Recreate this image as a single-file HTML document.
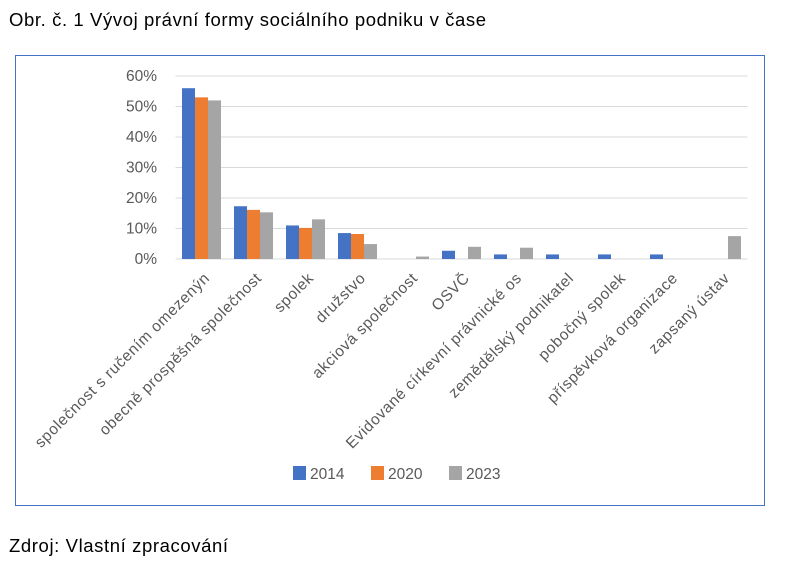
<!DOCTYPE html>
<html><head><meta charset="utf-8"><style>
body{margin:0;background:#fff;width:787px;height:563px;overflow:hidden;font-family:"Liberation Sans","DejaVu Sans",sans-serif}
.t{position:absolute;font-size:18.5px;letter-spacing:0.6px;color:#000}
</style></head><body>
<div class="t" style="left:9px;top:9px">Obr. č. 1 Vývoj právní formy sociálního podniku v čase</div>
<div class="t" style="left:9px;top:535px">Zdroj: Vlastní zpracování</div>
<svg id="c" width="787" height="563" style="position:absolute;left:0;top:0" xmlns="http://www.w3.org/2000/svg">
<rect x="15.5" y="55.5" width="749" height="450" fill="none" stroke="#4472c4" stroke-width="1"/>
</svg>
<script>
const categories=["společnost s ručením omezenýn","obecně prospěšná společnost","spolek","družstvo","akciová společnost","OSVČ","Evidované církevní právnické os","zemědělský podnikatel","pobočný spolek","příspěvková organizace","zapsaný ústav"];
const s2014=[56,17.3,11,8.5,0,2.7,1.5,1.5,1.5,1.5,0];
const s2020=[53,16.1,10.2,8.2,0,0,0,0,0,0,0];
const s2023=[52,15.3,13,4.9,0.8,4,3.7,0,0,0,7.5];
const yTicks=[0,10,20,30,40,50,60];
const seriesNames=["2014","2020","2023"];
const colors=["#4472c4","#ed7d31","#a5a5a5"];
const svg=document.getElementById('c');const NS="http://www.w3.org/2000/svg";
const x0=175.5,x1=747.5,y0=259,yTop=76;
const pitch=(x1-x0)/categories.length,bw=13;
const y=v=>y0-(v/60)*(y0-yTop);
const xc=i=>x0+pitch*(i+0.5);
function mk(t,a){const e=document.createElementNS(NS,t);for(const k in a)e.setAttribute(k,a[k]);svg.appendChild(e);return e;}
yTicks.forEach(v=>{
 const g=mk('line',{x1:x0,x2:x1,y1:y(v),y2:y(v),stroke:'#d9d9d9','stroke-width':1});
 
 
 const t=mk('text',{x:157,y:y(v)+5,'text-anchor':'end','font-size':15.5,fill:'#595959','font-family':'Liberation Sans, sans-serif'});
 t.textContent=v+'%';
 
 
});
[s2014,s2020,s2023].forEach((s,k)=>{
 s.forEach((v,i)=>{
  if(v<=0)return;
  const r=mk('rect',{x:xc(i)+(k-1)*bw-bw/2,y:y(v),width:bw,height:y0-y(v),fill:colors[k]});
  
  
 });
});
categories.forEach((c,i)=>{
 const tx=xc(i)+9,ty=279;
 const t=mk('text',{x:tx,y:ty,'text-anchor':'end','font-size':15.5,'letter-spacing':0.6,fill:'#595959','font-family':'Liberation Sans, sans-serif',transform:`rotate(-45 ${tx} ${ty})`});
 t.textContent=c;
 
 
});
seriesNames.forEach((n,k)=>{
 const lx=293+k*78;
 const r=mk('rect',{x:lx,y:466,width:13,height:14,fill:colors[k]});
 
 
 const t=mk('text',{x:lx+17,y:479,'font-size':15.5,fill:'#595959','font-family':'Liberation Sans, sans-serif'});
 t.textContent=n;
 
 
});
</script>
</body></html>
